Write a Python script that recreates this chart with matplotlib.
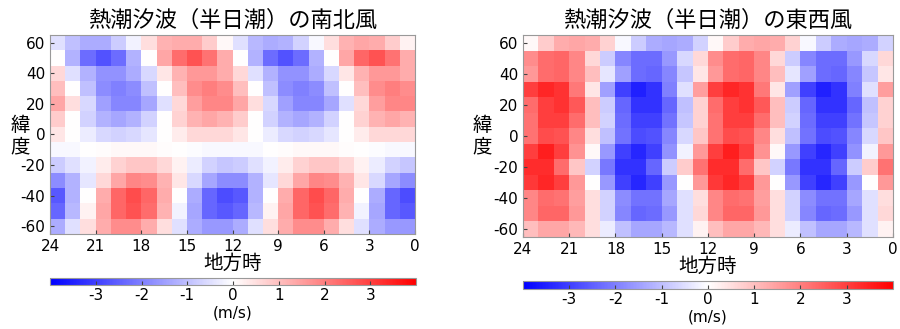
import numpy as np
import matplotlib
matplotlib.use("Agg")
import matplotlib.pyplot as plt

plt.rcParams["font.family"] = ["DejaVu Sans", "Noto Sans CJK JP"]
plt.rcParams["axes.unicode_minus"] = False

# latitude rows (top -> bottom) and local-time columns (24 -> 0)
lat_edges = [65, 55, 45, 35, 25, 15, 5, -5, -15, -25, -35, -45, -55, -65]
lt_edges = list(range(24, -1, -1))

# south-north wind (m/s), rows 60 .. -60, columns LT 23.5 .. 0.5
v_wind = [
    [-0.5, -1.0, -1.3, -1.3, -0.8, -0.2, 0.5, 1.2, 1.3, 1.3, 0.8, 0.1,
     -0.5, -1.1, -1.3, -1.2, -0.7, -0.1, 0.5, 1.2, 1.4, 1.3, 0.8, 0.2],
    [0.0, -1.2, -2.3, -2.7, -2.3, -1.2, 0.0, 1.4, 2.3, 2.7, 2.2, 1.3,
     0.0, -1.2, -2.3, -2.7, -2.3, -1.2, 0.0, 1.4, 2.4, 2.7, 2.2, 1.3],
    [0.6, -0.5, -1.2, -1.7, -1.7, -1.3, -0.6, 0.4, 1.2, 1.6, 1.6, 1.3,
     0.6, -0.5, -1.2, -1.7, -1.7, -1.3, -0.6, 0.4, 1.2, 1.6, 1.6, 1.3],
    [1.0, 0.0, -1.0, -1.8, -2.0, -1.8, -1.0, 0.0, 1.0, 1.8, 2.0, 1.8,
     1.0, 0.0, -1.0, -1.8, -2.0, -1.8, -1.0, 0.0, 1.0, 1.8, 2.0, 1.8],
    [1.4, 0.5, -0.6, -1.5, -1.9, -1.9, -1.4, -0.5, 0.6, 1.5, 1.9, 1.9,
     1.4, 0.5, -0.6, -1.5, -1.9, -1.9, -1.4, -0.5, 0.6, 1.5, 1.9, 1.9],
    [0.8, 0.0, -0.7, -1.2, -1.4, -1.2, -0.7, 0.0, 0.7, 1.2, 1.4, 1.2,
     0.8, 0.0, -0.7, -1.2, -1.4, -1.2, -0.7, 0.0, 0.7, 1.2, 1.4, 1.2],
    [0.4, 0.0, -0.3, -0.6, -0.7, -0.6, -0.4, 0.0, 0.3, 0.6, 0.6, 0.6,
     0.4, 0.0, -0.3, -0.6, -0.7, -0.6, -0.4, 0.0, 0.3, 0.6, 0.6, 0.6],
    [-0.1, -0.1, 0.0, 0.05, 0.1, 0.1, 0.1, 0.05, 0.0, -0.05, -0.1, -0.1,
     -0.1, -0.1, 0.0, 0.05, 0.1, 0.1, 0.1, 0.05, 0.0, -0.05, -0.1, -0.1],
    [-0.8, -0.5, -0.2, 0.3, 0.7, 0.9, 0.9, 0.6, 0.2, -0.3, -0.7, -0.9,
     -0.8, -0.5, -0.2, 0.3, 0.7, 0.9, 0.9, 0.6, 0.2, -0.3, -0.7, -0.9],
    [-1.8, -1.2, -0.4, 0.6, 1.4, 1.9, 1.8, 1.2, 0.4, -0.6, -1.4, -1.8,
     -1.8, -1.2, -0.4, 0.6, 1.4, 1.9, 1.8, 1.2, 0.4, -0.6, -1.4, -1.8],
    [-2.6, -1.2, 0.0, 1.3, 2.4, 2.8, 2.4, 1.3, 0.0, -1.3, -2.4, -2.8,
     -2.6, -1.2, 0.0, 1.3, 2.4, 2.8, 2.4, 1.3, 0.0, -1.3, -2.4, -2.8],
    [-2.4, -1.1, 0.2, 1.4, 2.4, 2.7, 2.3, 1.2, -0.2, -1.4, -2.4, -2.6,
     -2.4, -1.1, 0.2, 1.4, 2.4, 2.7, 2.3, 1.2, -0.2, -1.4, -2.4, -2.6],
    [-1.3, -0.5, 0.5, 1.3, 1.8, 1.8, 1.3, 0.5, -0.5, -1.3, -1.6, -1.6,
     -1.3, -0.5, 0.5, 1.3, 1.8, 1.8, 1.3, 0.5, -0.5, -1.3, -1.6, -1.6],
]

# east-west wind (m/s)
u_wind = [
    [0.1, 0.8, 1.3, 1.4, 1.3, 0.7, -0.1, -0.8, -1.3, -1.4, -1.3, -0.7,
     0.1, 0.8, 1.3, 1.4, 1.3, 0.7, -0.1, -0.8, -1.3, -1.4, -1.3, -0.7],
    [1.8, 2.3, 2.4, 1.9, 0.6, -0.8, -1.9, -2.3, -2.3, -1.6, -0.6, 0.6,
     1.8, 2.3, 2.4, 1.9, 0.6, -0.8, -1.9, -2.3, -2.3, -1.6, -0.6, 0.6],
    [1.6, 2.3, 2.4, 1.9, 1.0, -0.4, -1.5, -2.3, -2.4, -1.9, -0.9, 0.4,
     1.6, 2.3, 2.4, 1.9, 1.0, -0.4, -1.5, -2.3, -2.4, -1.9, -0.9, 0.4],
    [3.0, 3.4, 3.2, 2.1, 0.4, -1.5, -3.0, -3.5, -3.2, -2.0, -0.5, 1.5,
     3.0, 3.4, 3.2, 2.1, 0.4, -1.5, -3.0, -3.5, -3.2, -2.0, -0.5, 1.5],
    [2.3, 3.0, 3.2, 2.6, 1.0, -0.8, -2.4, -3.2, -3.2, -2.4, -1.0, 0.7,
     2.3, 3.0, 3.2, 2.6, 1.0, -0.8, -2.4, -3.2, -3.2, -2.4, -1.0, 0.7],
    [2.2, 3.0, 3.0, 2.3, 1.0, -0.7, -2.3, -3.0, -3.0, -2.2, -0.9, 0.7,
     2.2, 3.0, 3.0, 2.3, 1.0, -0.7, -2.3, -3.0, -3.0, -2.2, -0.9, 0.7],
    [2.2, 2.8, 2.7, 1.9, 0.5, -1.0, -2.2, -2.8, -2.7, -1.9, -0.6, 0.9,
     2.2, 2.8, 2.7, 1.9, 0.5, -1.0, -2.2, -2.8, -2.7, -1.9, -0.6, 0.9],
    [3.0, 3.5, 3.0, 1.7, 0.1, -1.6, -3.0, -3.4, -3.0, -1.7, -0.2, 1.6,
     3.0, 3.5, 3.0, 1.7, 0.1, -1.6, -3.0, -3.4, -3.0, -1.7, -0.2, 1.6],
    [3.3, 3.3, 2.3, 0.9, -0.7, -2.1, -3.2, -3.2, -2.4, -0.8, 0.8, 2.2,
     3.3, 3.3, 2.3, 0.9, -0.7, -2.1, -3.2, -3.2, -2.4, -0.8, 0.8, 2.2],
    [3.1, 3.4, 3.0, 1.6, 0.0, -1.6, -3.0, -3.4, -3.0, -1.6, 0.0, 1.6,
     3.1, 3.4, 3.0, 1.6, 0.0, -1.6, -3.0, -3.4, -3.0, -1.6, 0.0, 1.6],
    [1.9, 2.3, 2.2, 1.5, 0.5, -0.7, -1.8, -2.2, -2.2, -1.4, -0.5, 0.5,
     1.9, 2.3, 2.2, 1.5, 0.5, -0.7, -1.8, -2.2, -2.2, -1.4, -0.5, 0.5],
    [1.9, 2.4, 2.4, 1.6, 0.5, -0.7, -1.9, -2.4, -2.3, -1.6, -0.5, 0.6,
     1.9, 2.4, 2.4, 1.6, 0.5, -0.7, -1.9, -2.4, -2.3, -1.6, -0.5, 0.6],
    [1.0, 1.4, 1.4, 1.1, 0.5, -0.3, -1.0, -1.4, -1.4, -1.1, -0.5, 0.2,
     1.0, 1.4, 1.4, 1.1, 0.5, -0.3, -1.0, -1.4, -1.4, -1.1, -0.5, 0.2],
]

titles = ["熱潮汐波（半日潮）の南北風", "熱潮汐波（半日潮）の東西風"]
xticks = [24, 21, 18, 15, 12, 9, 6, 3, 0]
yticks = [-60, -40, -20, 0, 20, 40, 60]
cticks = [-3, -2, -1, 0, 1, 2, 3]

fig = plt.figure(figsize=(9, 3.29), dpi=100)

panels = [
    (v_wind, [0.0556, 0.2888, 0.4056, 0.605], [0.0556, 0.1337, 0.4067, 0.0213], 0.022),
    (u_wind, [0.5811, 0.2796, 0.4111, 0.614], [0.5811, 0.1216, 0.4111, 0.0243], 0.536),
]

for (data, ax_pos, cb_pos, ylab_x), title in zip(panels, titles):
    ax = fig.add_axes(ax_pos)
    mesh = ax.pcolormesh(lt_edges, lat_edges, np.array(data), cmap="bwr",
                         vmin=-4, vmax=4, shading="flat")
    ax.set_xlim(24, 0)
    ax.set_ylim(-65, 65)
    ax.set_xticks(xticks)
    ax.set_yticks(yticks)
    ax.tick_params(direction="in", labelsize=11, length=3, color="#444444")
    for s in ax.spines.values():
        s.set_color("#999999")
    ax.set_title(title, fontsize=16, pad=6)
    ax.set_xlabel("地方時", fontsize=14, labelpad=0)
    # vertical stacked latitude label
    fig.text(ylab_x, 0.585, "緯\n度", fontsize=14, ha="center", va="center",
             linespacing=1.15)

    cax = fig.add_axes(cb_pos)
    cb = fig.colorbar(mesh, cax=cax, orientation="horizontal", ticks=cticks)
    cb.outline.set_edgecolor("#999999")
    cax.tick_params(direction="in", labelsize=11, length=3, color="#444444", pad=2)
    cb.set_label("(m/s)", fontsize=11, labelpad=2)

fig.savefig("out.png", dpi=100)
